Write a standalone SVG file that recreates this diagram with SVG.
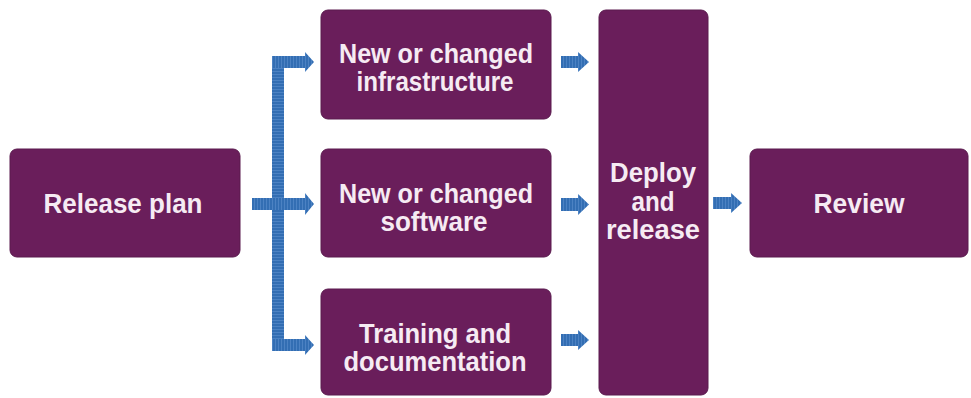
<svg xmlns="http://www.w3.org/2000/svg" width="971" height="398" viewBox="0 0 971 398">
  <defs>
    <pattern id="vstripe" patternUnits="userSpaceOnUse" width="3" height="3">
      <rect width="3" height="3" fill="#336eb3"/>
      <rect x="2" width="1" height="3" fill="#4c82c3"/>
    </pattern>
    <pattern id="hstripe" patternUnits="userSpaceOnUse" width="3" height="3">
      <rect width="3" height="3" fill="#336eb3"/>
      <rect y="2" width="3" height="1" fill="#4c82c3"/>
    </pattern>
  </defs>
  <style>
    .box { fill: #6a1e5b; stroke: #5a1a4e; stroke-width: 1; }
    .lbl { font-family: "Liberation Sans", Arial, sans-serif; font-weight: bold; font-size: 27px; fill: #f6ebf3; text-anchor: middle; }
    .arr { fill: url(#vstripe); }
    .bar { fill: url(#hstripe); }
  </style>
  <rect width="971" height="398" fill="#ffffff"/>

  <g id="connectors">
    <rect class="bar" x="272" y="56" width="12" height="295"/>
    <path class="arr" d="M272,56 H305 V52 L314,62 L305,72 V68 H272 Z"/>
    <path class="arr" d="M252,198 H305 V193 L314,204 L305,215 V210 H252 Z"/>
    <path class="arr" d="M272,339 H305 V335 L314,345 L305,355 V351 H272 Z"/>
    <path class="arr" d="M561,56 H578 V52 L589,62 L578,72 V68 H561 Z"/>
    <path class="arr" d="M561,198 H578 V194 L589,204.5 L578,215 V211 H561 Z"/>
    <path class="arr" d="M561,334 H578 V330 L589,340 L578,350 V346 H561 Z"/>
    <path class="arr" d="M713,197 H731 V193 L742,203 L731,213 V209 H713 Z"/>
  </g>

  <g id="release-plan">
    <rect class="box" x="10" y="149" width="230" height="108" rx="7"/>
    <text class="lbl" x="123" y="213" textLength="159" lengthAdjust="spacingAndGlyphs">Release plan</text>
  </g>
  <g id="infrastructure">
    <rect class="box" x="321" y="10" width="230" height="109" rx="7"/>
    <text class="lbl" x="436" y="63" textLength="194" lengthAdjust="spacingAndGlyphs">New or changed</text>
    <text class="lbl" x="435" y="91" textLength="157" lengthAdjust="spacingAndGlyphs">infrastructure</text>
  </g>
  <g id="software">
    <rect class="box" x="321" y="149" width="230" height="108" rx="7"/>
    <text class="lbl" x="436" y="203" textLength="194" lengthAdjust="spacingAndGlyphs">New or changed</text>
    <text class="lbl" x="434" y="231" textLength="107" lengthAdjust="spacingAndGlyphs">software</text>
  </g>
  <g id="training">
    <rect class="box" x="321" y="289" width="230" height="106" rx="7"/>
    <text class="lbl" x="435" y="343" textLength="152" lengthAdjust="spacingAndGlyphs">Training and</text>
    <text class="lbl" x="435" y="371" textLength="183" lengthAdjust="spacingAndGlyphs">documentation</text>
  </g>
  <g id="deploy">
    <rect class="box" x="599" y="10" width="109" height="385" rx="7"/>
    <text class="lbl" x="653" y="182" textLength="86" lengthAdjust="spacingAndGlyphs">Deploy</text>
    <text class="lbl" x="653" y="211" textLength="43" lengthAdjust="spacingAndGlyphs">and</text>
    <text class="lbl" x="653" y="239" textLength="94" lengthAdjust="spacingAndGlyphs">release</text>
  </g>
  <g id="review">
    <rect class="box" x="750" y="149" width="218" height="108" rx="7"/>
    <text class="lbl" x="859" y="213" textLength="91" lengthAdjust="spacingAndGlyphs">Review</text>
  </g>
</svg>
